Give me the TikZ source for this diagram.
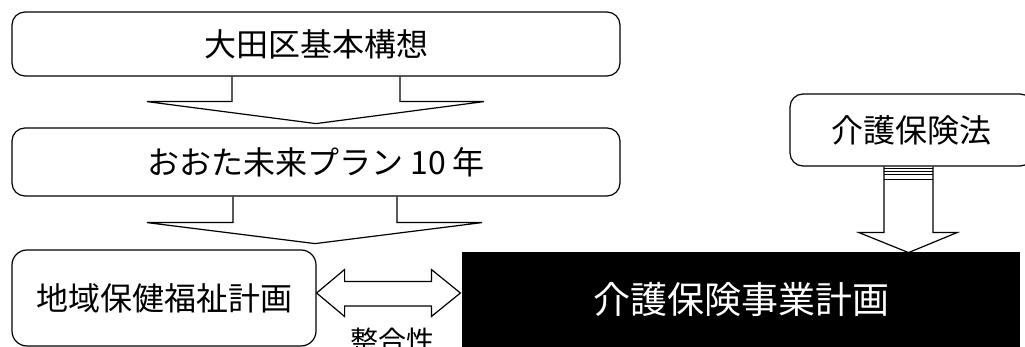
\documentclass[tikz,border=0pt]{standalone}
\usepackage{fontspec}
\setmainfont{Noto Sans CJK JP}
\usetikzlibrary{calc}
\begin{document}
\begin{tikzpicture}[x=1pt,y=-1pt,line width=1.2pt,
  rbox/.style={draw=black, fill=white, rounded corners=13pt, inner sep=0pt, font=\fontsize{32}{36}\selectfont},
  blkbox/.style={draw=black, fill=black, text=white, inner sep=0pt, font=\fontsize{37}{40}\selectfont},
  blockarrow/.style={draw=black, line width=1.2pt, line join=miter},
  lbl/.style={inner sep=0pt, font=\fontsize{28}{30}\selectfont}]
\clip (0,0) rectangle (1025,347);
\fill[white] (0,0) rectangle (1025,347);
% boxes
\node[rbox, minimum width=608pt, minimum height=64pt] (b1) at (316,44) {大田区基本構想};
\node[rbox, minimum width=608pt, minimum height=68pt] (b2) at (316,162) {おおた未来プラン 10 年};
\node[rbox, rounded corners=15pt, minimum width=304pt, minimum height=96pt] (b3) at (164,298) {地域保健福祉計画};
\node[rbox, minimum width=243pt, minimum height=72pt] (b4) at (911.5,130) {介護保険法};
\node[blkbox, minimum width=556pt, minimum height=94pt] (b5) at (741,300) {介護保険事業計画};
\node[lbl] (lab) at (392,341) {整合性};
% arrow b1 -> b2
\draw[blockarrow] ($(b1.south)+(-84,0)$) -- ($(b1.south)+(-84,25)$) -- ($(b1.south)+(-169,25)$)
  -- ($(b1.south)+(0,47)$) -- ($(b1.south)+(168,25)$) -- ($(b1.south)+(84,25)$) -- ($(b1.south)+(84,0)$);
% arrow b2 -> b3
\draw[blockarrow] ($(b2.south)+(-83,0)$) -- ($(b2.south)+(-83,26)$) -- ($(b2.south)+(-169,26)$)
  -- ($(b2.south)+(-1,47)$) -- ($(b2.south)+(166,26)$) -- ($(b2.south)+(81,26)$) -- ($(b2.south)+(81,0)$);
% arrow b4 -> b5
\coordinate (a3) at ($(b4.south)+(-3,0)$);
\draw[blockarrow] ($(a3)+(-24.5,0)$) -- ($(a3)+(-24.5,66)$) -- ($(a3)+(-49.5,66)$)
  -- ($(a3)+(0,86)$) -- ($(a3)+(48.5,66)$) -- ($(a3)+(24.5,66)$) -- ($(a3)+(24.5,0)$);
\foreach \dy in {2,4.5,8,13}{
  \draw[line width=1pt] ($(a3)+(-24.5,\dy)$) -- ($(a3)+(24.5,\dy)$);
}
% double arrow b3 <-> b5
\coordinate (dl) at ($(b3.east)+(0,-5)$);
\coordinate (dr) at ($(b5.west)+(-2,-7)$);
\draw[blockarrow] (dl) -- ($(dl)+(28,-23.5)$) -- ($(dl)+(28,-11.5)$) -- ($(dr)+(-29,-11.5)$)
  -- ($(dr)+(-29,-23.5)$) -- (dr) -- ($(dr)+(-29,23.5)$) -- ($(dr)+(-29,13)$)
  -- ($(dl)+(28,13)$) -- ($(dl)+(28,23.5)$) -- cycle;
\end{tikzpicture}
\end{document}
